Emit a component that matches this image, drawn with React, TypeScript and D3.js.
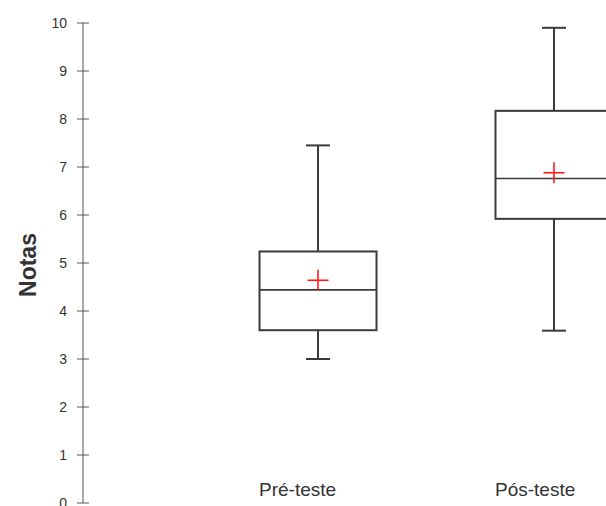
import React from "react";
import * as d3 from "d3";

const categories = ["Pré-teste", "Pós-teste"];
const minValues = [3.0, 3.59];
const q1Values = [3.6, 5.92];
const medianValues = [4.44, 6.76];
const q3Values = [5.24, 8.17];
const maxValues = [7.45, 9.9];
const meanValues = [4.64, 6.88];
const yTicks = [0, 1, 2, 3, 4, 5, 6, 7, 8, 9, 10];

export default function App() {
  const W = 606, H = 506;
  const y = d3.scaleLinear().domain([0, 10]).range([503, 23]);
  const x = d3.scalePoint<string>().domain(categories).range([318, 554]);
  const axisX = 83;
  const boxW = 117;
  const capW = 24;
  const crossS = 10.5;
  const stroke = "#3a3a3c";
  const font = "Liberation Sans, Arial, sans-serif";
  return (
    <svg width={W} height={H} style={{ position: "absolute", left: 0, top: 0, background: "#fff" }}>
      <rect width={W} height={H} fill="#fff" />
      <line x1={axisX} x2={axisX} y1={y(0)} y2={y(10)} stroke="#555" strokeWidth={1} />
      {yTicks.map((t) => (
        <g key={t}>
          <line x1={axisX - 6} x2={axisX + 6} y1={y(t)} y2={y(t)} stroke="#555" strokeWidth={1} />
          <text x={67} y={y(t)} dy="0.36em" textAnchor="end" fontFamily={font} fontSize={14} fill="#333">
            {t}
          </text>
        </g>
      ))}
      <text
        transform={`translate(36,265) rotate(-90)`}
        textAnchor="middle"
        fontFamily={font}
        fontWeight="bold"
        fontSize={23}
        fill="#333"
      >
        Notas
      </text>
      {categories.map((c, i) => {
        const cx = x(c)!;
        return (
          <g key={c}>
            <line x1={cx} x2={cx} y1={y(maxValues[i])} y2={y(q3Values[i])} stroke={stroke} strokeWidth={2} />
            <line x1={cx} x2={cx} y1={y(q1Values[i])} y2={y(minValues[i])} stroke={stroke} strokeWidth={2} />
            <line x1={cx - capW / 2} x2={cx + capW / 2} y1={y(maxValues[i])} y2={y(maxValues[i])} stroke={stroke} strokeWidth={2} />
            <line x1={cx - capW / 2} x2={cx + capW / 2} y1={y(minValues[i])} y2={y(minValues[i])} stroke={stroke} strokeWidth={2} />
            <rect
              x={cx - boxW / 2}
              y={y(q3Values[i])}
              width={boxW}
              height={y(q1Values[i]) - y(q3Values[i])}
              fill="none"
              stroke={stroke}
              strokeWidth={2}
            />
            <line x1={cx - boxW / 2} x2={cx + boxW / 2} y1={y(medianValues[i])} y2={y(medianValues[i])} stroke={stroke} strokeWidth={1.6} />
            <line x1={cx - crossS} x2={cx + crossS} y1={y(meanValues[i])} y2={y(meanValues[i])} stroke="#ff1a1a" strokeWidth={1.6} />
            <line x1={cx} x2={cx} y1={y(meanValues[i]) - crossS} y2={y(meanValues[i]) + crossS} stroke="#ff1a1a" strokeWidth={1.6} />
            <text x={cx - 59} y={496} fontFamily={font} fontSize={19} fill="#333">
              {c}
            </text>
          </g>
        );
      })}
    </svg>
  );
}
